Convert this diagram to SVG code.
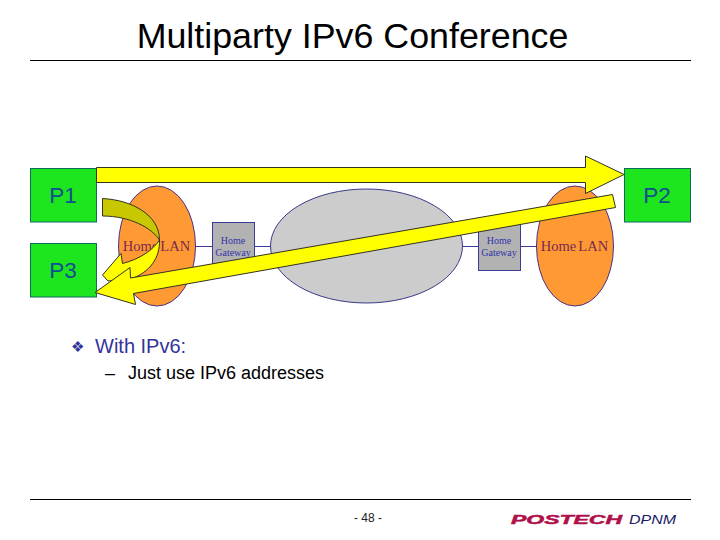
<svg xmlns="http://www.w3.org/2000/svg" width="720" height="540" viewBox="0 0 720 540">
<style>
.sans{font-family:"Liberation Sans",Arial,sans-serif}
.p rect{fill:#1ee61e;stroke:#0f6b5e;stroke-width:1}
.p text{font-family:"Liberation Sans",Arial,sans-serif;font-size:22.500px;fill:#0f4f8f;text-anchor:middle}
.lan ellipse{fill:#ff9933;stroke:#4a3088;stroke-width:1}
.lan text{font-family:"Liberation Serif",serif;font-size:14.500px;word-spacing:-1.500px;fill:#7a2a50;text-anchor:middle}
.gw rect{fill:#b2b2b2;stroke:#3a3a9a;stroke-width:1}
.gw text{font-family:"Liberation Serif",serif;font-size:10px;fill:#3333aa;text-anchor:middle}
.arrow{fill:#ffff00;stroke:#333322;stroke-width:1;stroke-linejoin:miter}
.wire{stroke:#3a3a9a;stroke-width:1;fill:none}
.rule{stroke:#000;stroke-width:1}
</style>
<rect width="720" height="540" fill="#fff"/>
<text class="sans" x="352.500" y="48" font-size="35.800" text-anchor="middle" fill="#000" id="title">Multiparty IPv6 Conference</text>
<line class="rule" x1="30" y1="60.500" x2="691" y2="60.500"/>
<g id="connectors">
<line class="wire" x1="195" y1="246.500" x2="213" y2="246.500"/>
<line class="wire" x1="254" y1="246.500" x2="271" y2="246.500"/>
<line class="wire" x1="462" y1="246.500" x2="479" y2="246.500"/>
<line class="wire" x1="520" y1="246.500" x2="537" y2="246.500"/>
</g>
<g id="lan-left" class="lan"><ellipse cx="157" cy="246" rx="38.500" ry="60"/><text x="156.500" y="251">Home LAN</text></g>
<g id="gateway-left" class="gw"><rect x="212.500" y="222.500" width="42" height="48"/><text x="233" y="244">Home</text><text x="233" y="256">Gateway</text></g>
<g id="cloud"><ellipse cx="366.500" cy="246" rx="96" ry="57" fill="#cccccc" stroke="#3a3a8a" stroke-width="1"/></g>
<g id="gateway-right" class="gw"><rect x="478.500" y="222.500" width="42" height="48"/><text x="499" y="244">Home</text><text x="499" y="256">Gateway</text></g>
<g id="lan-right" class="lan"><ellipse cx="575" cy="246" rx="38.500" ry="60"/><text x="574.500" y="251">Home LAN</text></g>
<g id="p1" class="p"><rect x="30.500" y="168.500" width="66" height="53.500"/><text x="63" y="203">P1</text></g>
<g id="p2" class="p"><rect x="624.500" y="168.500" width="66" height="53.500"/><text x="657" y="203">P2</text></g>
<g id="p3" class="p"><rect x="30.500" y="243.500" width="66" height="53.500"/><text x="63" y="278">P3</text></g>
<g id="arrows">
<polygon class="arrow" points="96.500,167.500 585.500,167.500 585.500,156 624,174.500 585.500,193.500 585.500,182.500 96.500,182.500"/>
<path d="M102.500,198.500 C132,200 159.500,215 159.500,240 C152,228 130,216 102.500,216 Z" fill="#c8c800" stroke="#333322" stroke-width="1"/>
<path class="arrow" d="M159.500,240 C160,258 150,272 131,279 L108,281 L102.500,275 L121,253.500 L122.500,263.500 C140,259 153,250 159.500,240 Z"/>
<polygon class="arrow" points="612.500,194.500 130.500,278 130,267.500 95,292.500 135.500,304.500 133.500,293.500 615.500,207.500"/>
</g>
<text x="71" y="352" font-size="15" fill="#333399" font-family="'DejaVu Sans',sans-serif">❖</text>
<text class="sans" x="95" y="352.500" font-size="20" fill="#333399">With IPv6:</text>
<text class="sans" x="105" y="379" font-size="18" fill="#000">–</text>
<text class="sans" x="128" y="379" font-size="18" fill="#000">Just use IPv6 addresses</text>
<line class="rule" x1="30" y1="499.500" x2="691" y2="499.500"/>
<text class="sans" x="354" y="522" font-size="12" fill="#222">- 48 -</text>
<text class="sans" x="511" y="524" font-size="13" font-weight="bold" font-style="italic" fill="#b0104a" stroke="#b0104a" stroke-width="0.500" textLength="111" lengthAdjust="spacingAndGlyphs">POSTECH</text>
<text class="sans" x="629" y="524" font-size="13" font-style="italic" fill="#1a1a66" textLength="47" lengthAdjust="spacingAndGlyphs">DPNM</text>
</svg>
